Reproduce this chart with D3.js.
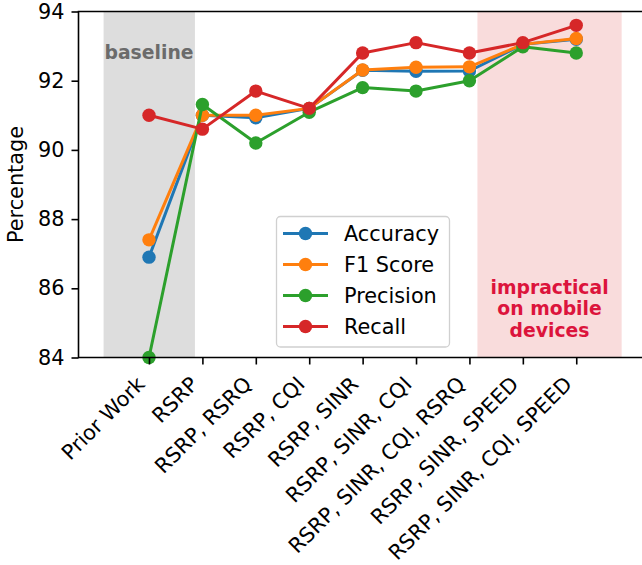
<!DOCTYPE html>
<html>
<head>
<meta charset="utf-8">
<script src="https://cdn.jsdelivr.net/npm/d3@7"></script>
<style>
  html, body { margin: 0; padding: 0; background: #fff; }
  svg { display: block; font-family: "DejaVu Sans", sans-serif; }
</style>
</head>
<body>
<svg id="chart" width="642" height="565"></svg>
<script>
// Feature sets evaluated, in plotting order
const categories = [
  "Prior Work", "RSRP", "RSRP, RSRQ", "RSRP, CQI", "RSRP, SINR",
  "RSRP, SINR, CQI", "RSRP, SINR, CQI, RSRQ", "RSRP, SINR, SPEED", "RSRP, SINR, CQI, SPEED"
];
const accuracy  = [86.9, 91.0, 90.93, 91.2, 92.3, 92.27, 92.28, 93.05, 93.2];
const f1Score   = [87.4, 91.0, 91.0, 91.2, 92.31, 92.39, 92.4, 93.05, 93.22];
const precision = [84.0, 91.31, 90.2, 91.09, 91.8, 91.7, 92.0, 92.98, 92.8];
const recall    = [91.0, 90.6, 91.7, 91.2, 92.8, 93.1, 92.8, 93.1, 93.6];
const yTicks = [84, 86, 88, 90, 92, 94];

const seriesNames  = ["Accuracy", "F1 Score", "Precision", "Recall"];
const seriesValues = [accuracy, f1Score, precision, recall];
const seriesColors = ["#1f77b4", "#ff7f0e", "#2ca02c", "#d62728"];

const FONT = "DejaVu Sans, sans-serif";
const svg = d3.select("#chart");
const plotLeft = 78.5, plotRight = 643, plotTop = 11.5, plotBottom = 357.5;

const x = d3.scaleLinear().domain([-1.32, 9.25]).range([plotLeft, plotRight]);
const y = d3.scaleLinear().domain([84, 94]).range([plotBottom, plotTop]);

// Shaded regions: baseline and feature sets impractical on mobile
svg.append("rect")
  .attr("x", x(-0.85)).attr("y", plotTop)
  .attr("width", x(0.86) - x(-0.85)).attr("height", plotBottom - plotTop)
  .attr("fill", "#dddddd");
svg.append("rect")
  .attr("x", x(6.15)).attr("y", plotTop)
  .attr("width", x(8.85) - x(6.15)).attr("height", plotBottom - plotTop)
  .attr("fill", "#f9dcdc");

svg.append("text")
  .attr("x", x(0)).attr("y", 59)
  .attr("text-anchor", "middle")
  .attr("font-size", 18.8).attr("font-weight", "bold")
  .attr("fill", "#6b6b6b")
  .text("baseline");

const noteLines = ["impractical", "on mobile", "devices"];
svg.append("text")
  .attr("text-anchor", "middle")
  .attr("font-size", 18.8).attr("font-weight", "bold")
  .attr("fill", "#dc143c")
  .selectAll("tspan").data(noteLines).join("tspan")
  .attr("x", x(7.5)).attr("y", (d, i) => 293.5 + i * 21.5)
  .text(d => d);

// Series lines and markers
const line = d3.line().x((d, i) => x(i)).y(d => y(d));
seriesValues.forEach((vals, s) => {
  const g = svg.append("g");
  g.append("path").datum(vals)
    .attr("d", line)
    .attr("fill", "none")
    .attr("stroke", seriesColors[s])
    .attr("stroke-width", 3)
    .attr("stroke-linejoin", "round");
  g.selectAll("circle").data(vals).join("circle")
    .attr("cx", (d, i) => x(i)).attr("cy", d => y(d))
    .attr("r", 6.7)
    .attr("fill", seriesColors[s]);
});

// Axes
const yAxis = d3.axisLeft(y).tickValues(yTicks).tickSize(7).tickPadding(7).tickFormat(d3.format("d"));
const gy = svg.append("g").attr("transform", `translate(${plotLeft},0)`).call(yAxis);
gy.select(".domain").remove();
gy.selectAll(".tick line").attr("stroke", "#000").attr("stroke-width", 1.6);
gy.selectAll(".tick text").attr("font-size", 20.8).attr("fill", "#000")
  .attr("font-family", FONT);

const xAxis = d3.axisBottom(x).tickValues(d3.range(categories.length)).tickSize(7).tickFormat(i => categories[i]);
const gx = svg.append("g").attr("transform", `translate(0,${plotBottom})`).call(xAxis);
gx.select(".domain").remove();
gx.selectAll(".tick line").attr("stroke", "#000").attr("stroke-width", 1.6);
gx.selectAll(".tick text")
  .attr("font-size", 20.8).attr("fill", "#000")
  .attr("font-family", FONT)
  .attr("text-anchor", "end")
  .attr("dy", null).attr("y", null)
  .attr("transform", "translate(-3.5,28) rotate(-45)");

// Frame
svg.append("path")
  .attr("d", `M${plotRight},${plotTop}H${plotLeft}V${plotBottom}H${plotRight}`)
  .attr("fill", "none").attr("stroke", "#000").attr("stroke-width", 1.6);

// Y label
svg.append("text")
  .attr("transform", `translate(23,${(plotTop + plotBottom) / 2}) rotate(-90)`)
  .attr("text-anchor", "middle")
  .attr("font-size", 20.8)
  .text("Percentage");

// Legend
const lg = svg.append("g").attr("transform", "translate(276,216)");
lg.append("rect")
  .attr("x", 0.5).attr("y", 0.5).attr("width", 173).attr("height", 130.5)
  .attr("rx", 4).attr("fill", "#fff").attr("fill-opacity", 0.8)
  .attr("stroke", "#d0d0d0").attr("stroke-width", 1.3);
seriesNames.forEach((name, i) => {
  const cy = 17.5 + i * 31;
  lg.append("line").attr("x1", 7).attr("x2", 52).attr("y1", cy).attr("y2", cy)
    .attr("stroke", seriesColors[i]).attr("stroke-width", 3);
  lg.append("circle").attr("cx", 29.5).attr("cy", cy).attr("r", 6.7).attr("fill", seriesColors[i]);
  lg.append("text").attr("x", 68).attr("y", cy + 7.8)
    .attr("font-size", 20.8).text(name);
});
</script>
</body>
</html>
